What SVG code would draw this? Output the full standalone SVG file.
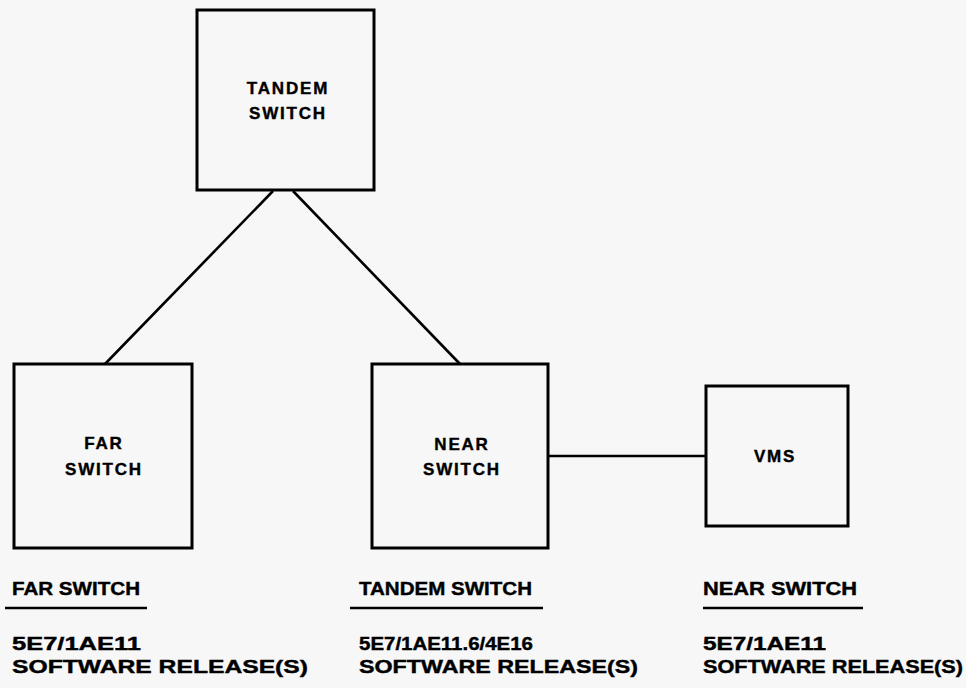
<svg xmlns="http://www.w3.org/2000/svg" width="966" height="688" viewBox="0 0 966 688">
<style>
.box{fill:none;stroke:#000;stroke-width:3}
.wire{fill:none;stroke:#000;stroke-width:2.6}
.lbl{font-family:"Liberation Sans",Arial,sans-serif;font-weight:bold;font-size:17px;fill:#000;stroke:#000;stroke-width:0.4;text-anchor:middle;letter-spacing:1.8px}
.cap{font-family:"Liberation Sans",Arial,sans-serif;font-weight:bold;font-size:18px;fill:#000;stroke:#000;stroke-width:0.4}
.ul{stroke:#000;stroke-width:2.4}
</style>
<rect x="0" y="0" width="966" height="688" fill="#f7f7f7"/>
<g id="connectors">
<line class="wire" x1="273" y1="191" x2="105" y2="364"/>
<line class="wire" x1="293" y1="191" x2="460" y2="364"/>
<line class="wire" x1="548" y1="456" x2="706" y2="456"/>
</g>
<g id="tandem">
<rect class="box" x="197" y="10" width="177" height="180"/>
<text class="lbl" x="288" y="94">TANDEM</text>
<text class="lbl" x="288" y="119">SWITCH</text>
</g>
<g id="far">
<rect class="box" x="14" y="364" width="178" height="184"/>
<text class="lbl" x="104" y="449">FAR</text>
<text class="lbl" x="104" y="475">SWITCH</text>
</g>
<g id="near">
<rect class="box" x="372" y="364" width="176" height="184"/>
<text class="lbl" x="462" y="450">NEAR</text>
<text class="lbl" x="462" y="475">SWITCH</text>
</g>
<g id="vms">
<rect class="box" x="706" y="386" width="142" height="140"/>
<text class="lbl" x="775" y="462">VMS</text>
</g>
<g id="far-info">
<text class="cap" x="12" y="595" textLength="128" lengthAdjust="spacingAndGlyphs">FAR SWITCH</text>
<line class="ul" x1="5" y1="608" x2="147" y2="608"/>
<text class="cap" x="12" y="650" textLength="129" lengthAdjust="spacingAndGlyphs">5E7/1AE11</text>
<text class="cap" x="12" y="673" textLength="296" lengthAdjust="spacingAndGlyphs">SOFTWARE RELEASE(S)</text>
</g>
<g id="tandem-info">
<text class="cap" x="359" y="595" textLength="173" lengthAdjust="spacingAndGlyphs">TANDEM SWITCH</text>
<line class="ul" x1="350" y1="608" x2="543" y2="608"/>
<text class="cap" x="359" y="650" textLength="174" lengthAdjust="spacingAndGlyphs">5E7/1AE11.6/4E16</text>
<text class="cap" x="359" y="673" textLength="279" lengthAdjust="spacingAndGlyphs">SOFTWARE RELEASE(S)</text>
</g>
<g id="near-info">
<text class="cap" x="703" y="595" textLength="154" lengthAdjust="spacingAndGlyphs">NEAR SWITCH</text>
<line class="ul" x1="703" y1="608" x2="863" y2="608"/>
<text class="cap" x="703" y="650" textLength="123" lengthAdjust="spacingAndGlyphs">5E7/1AE11</text>
<text class="cap" x="703" y="673" textLength="260" lengthAdjust="spacingAndGlyphs">SOFTWARE RELEASE(S)</text>
</g>
</svg>
